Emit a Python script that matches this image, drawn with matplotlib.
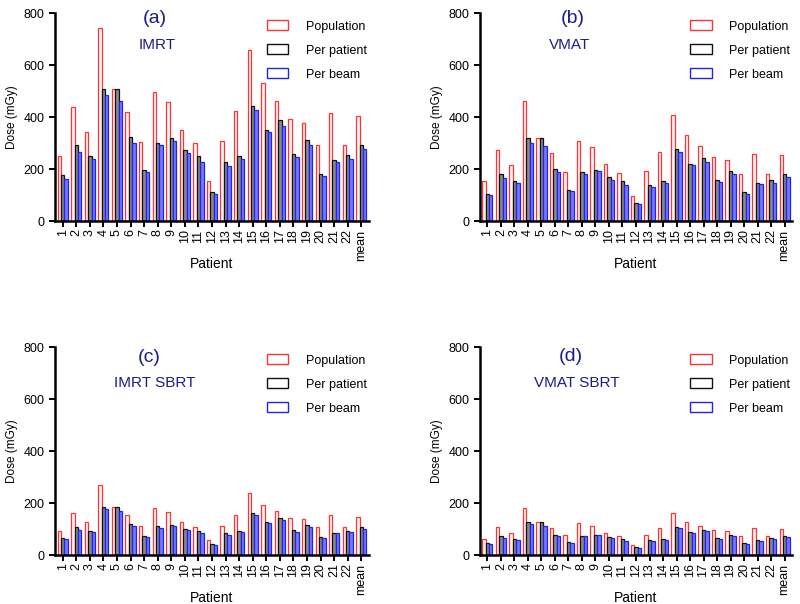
import numpy as np
import matplotlib
matplotlib.use('Agg')
import matplotlib.pyplot as plt
from matplotlib.patches import Patch

plt.rcParams['font.family'] = ['Liberation Sans', 'DejaVu Sans']

patients = [str(i) for i in range(1, 23)] + ['mean']
series_names = ['Population', 'Per patient', 'Per beam']

# panel (a) IMRT
imrt_pop = [251, 440, 344, 742, 510, 421, 306, 497, 460, 349, 299, 154, 309, 424, 658, 532, 463, 394, 377, 292, 418, 291, 406]
imrt_pat = [176, 291, 251, 510, 510, 324, 196, 301, 318, 273, 249, 112, 227, 249, 444, 350, 390, 259, 313, 181, 236, 256, 291]
imrt_beam = [163, 265, 238, 485, 464, 300, 188, 291, 308, 262, 227, 106, 213, 238, 426, 344, 367, 246, 292, 174, 227, 238, 277]

# panel (b) VMAT
vmat_pop = [155, 275, 215, 462, 320, 263, 190, 310, 287, 218, 185, 95, 193, 265, 410, 332, 288, 245, 235, 182, 260, 180, 253]
vmat_pat = [105, 180, 155, 318, 320, 200, 120, 188, 197, 168, 153, 70, 140, 153, 278, 220, 243, 160, 192, 112, 145, 158, 180]
vmat_beam = [100, 165, 145, 302, 290, 188, 115, 180, 192, 160, 140, 65, 132, 148, 267, 215, 228, 152, 180, 105, 142, 148, 170]

# panel (c) IMRT SBRT
imrt_sbrt_pop = [93, 161, 126, 270, 187, 155, 112, 181, 166, 128, 110, 58, 112, 155, 240, 194, 169, 143, 138, 108, 154, 107, 148]
imrt_sbrt_pat = [65, 107, 93, 186, 187, 119, 72, 111, 115, 99, 93, 41, 85, 92, 163, 128, 143, 95, 115, 68, 86, 94, 108]
imrt_sbrt_beam = [61, 97, 89, 177, 169, 111, 68, 106, 112, 95, 84, 39, 79, 89, 156, 125, 135, 89, 107, 66, 86, 89, 102]

# panel (d) VMAT SBRT
vmat_sbrt_pop = [63, 108, 85, 181, 126, 104, 77, 122, 112, 86, 72, 38, 76, 104, 162, 129, 113, 96, 94, 73, 103, 73, 100]
vmat_sbrt_pat = [45, 72, 62, 126, 126, 79, 50, 73, 77, 68, 62, 31, 58, 62, 108, 87, 96, 64, 78, 45, 59, 65, 73]
vmat_sbrt_beam = [41, 65, 59, 121, 113, 74, 46, 72, 77, 64, 56, 26, 54, 59, 104, 85, 91, 62, 72, 44, 56, 60, 69]

panels = [
    ('(a)', 'IMRT', [imrt_pop, imrt_pat, imrt_beam]),
    ('(b)', 'VMAT', [vmat_pop, vmat_pat, vmat_beam]),
    ('(c)', 'IMRT SBRT', [imrt_sbrt_pop, imrt_sbrt_pat, imrt_sbrt_beam]),
    ('(d)', 'VMAT SBRT', [vmat_sbrt_pop, vmat_sbrt_pat, vmat_sbrt_beam]),
]

edge_colors = ['#ff3333', '#111111', '#2222ee']
face_colors = ['#fff4f4', '#8a8a8a', '#7777ff']
title_color = '#1c1c8c'

fig = plt.figure(figsize=(8, 6.04), dpi=100)
positions = [
    [0.069, 0.634, 0.392, 0.344],
    [0.600, 0.634, 0.390, 0.344],
    [0.069, 0.081, 0.392, 0.344],
    [0.600, 0.081, 0.390, 0.344],
]
# (x, y) of tag and of name, axes fraction
title_xy = [
    ((0.318, 0.975), (0.325, 0.846)),
    ((0.298, 0.975), (0.288, 0.846)),
    ((0.300, 0.952), (0.318, 0.827)),
    ((0.290, 0.958), (0.310, 0.830)),
]

x = np.arange(len(patients))
w = 0.25

for pos, txy, (tag, name, data) in zip(positions, title_xy, panels):
    ax = fig.add_axes(pos)
    for k, vals in enumerate(data):
        ax.bar(x + (k - 1) * w, vals, width=w, facecolor=face_colors[k],
               edgecolor=edge_colors[k], linewidth=0.9)
    ax.set_xlim(-0.55, 22.55)
    ax.set_ylim(0, 800)
    ax.set_yticks([0, 200, 400, 600, 800])
    ax.set_xticks(x)
    ax.set_xticklabels(patients, rotation=90, fontsize=9)
    ax.tick_params(axis='y', labelsize=9, width=1.4, length=4)
    ax.tick_params(axis='x', width=1.4, length=4, pad=2)
    for s in ['top', 'right']:
        ax.spines[s].set_visible(False)
    for s in ['left', 'bottom']:
        ax.spines[s].set_linewidth(1.8)
    ax.set_xlabel('Patient', fontsize=10)
    ax.xaxis.set_label_coords(0.5, -0.172)
    ax.set_ylabel('Dose (mGy)', fontsize=8.5)

    ax.text(txy[0][0], txy[0][1], tag, transform=ax.transAxes, ha='center',
            va='center', fontsize=14, color=title_color)
    ax.text(txy[1][0], txy[1][1], name, transform=ax.transAxes, ha='center',
            va='center', fontsize=11, color=title_color)

    handles = [Patch(facecolor='white', edgecolor=edge_colors[k], linewidth=1.0)
               for k in range(3)]
    ax.legend(handles, series_names, loc='upper right', frameon=False,
              fontsize=9, bbox_to_anchor=(1.03, 1.02), handlelength=1.7,
              handleheight=0.8, labelspacing=0.95, handletextpad=1.4)

fig.savefig('out.png', dpi=100)
